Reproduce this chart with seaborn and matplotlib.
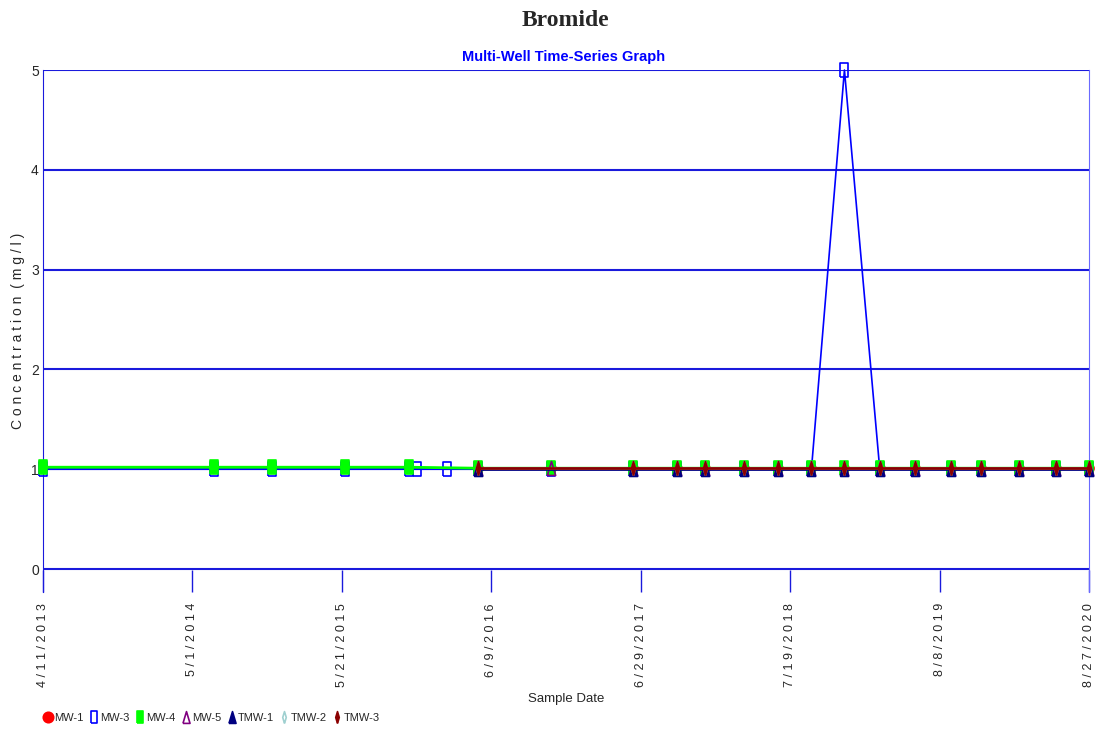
import pandas as pd
import seaborn as sns
import matplotlib.pyplot as plt
from matplotlib.lines import Line2D

# sample dates
early_dates = ['2013-04-11', '2014-06-25', '2014-11-21', '2015-05-28', '2015-11-09']
mw3_extra_dates = ['2015-12-02', '2016-02-17']
mid_dates = ['2016-05-05', '2016-11-09']
late_dates = ['2017-06-08', '2017-09-30', '2017-12-11', '2018-03-21', '2018-06-19',
              '2018-09-12', '2018-12-06', '2019-03-07', '2019-06-05', '2019-09-06',
              '2019-11-22', '2020-02-28', '2020-06-03', '2020-08-27']

mw1_dates = mid_dates + late_dates
mw1_values = [1.01, 1.01, 1.01, 1.01, 1.01, 1.01, 1.01, 1.01, 1.01, 1.01, 1.01, 1.01, 1.01, 1.01, 1.01, 1.01]

mw3_dates = early_dates + mw3_extra_dates + mid_dates + late_dates
mw3_values = [1.0, 1.0, 1.0, 1.0, 1.0, 1.0, 1.0, 1.0, 1.0,
              1.0, 1.0, 1.0, 1.0, 1.0, 1.0, 5.0, 1.0, 1.0, 1.0, 1.0, 1.0, 1.0, 1.0]

mw4_dates = early_dates + mid_dates + late_dates
mw4_values = [1.02, 1.02, 1.02, 1.02, 1.02, 1.01, 1.01,
              1.01, 1.01, 1.01, 1.01, 1.01, 1.01, 1.01, 1.01, 1.01, 1.01, 1.01, 1.01, 1.01, 1.01]

mw5_dates = mid_dates + late_dates
mw5_values = [1.01, 1.01, 1.01, 1.01, 1.01, 1.01, 1.01, 1.01, 1.01, 1.01, 1.01, 1.01, 1.01, 1.01, 1.01, 1.01]

tmw_dates = ['2016-05-05'] + late_dates
tmw1_values = [1.0, 1.0, 1.0, 1.0, 1.0, 1.0, 1.0, 1.0, 1.0, 1.0, 1.0, 1.0, 1.0, 1.0, 1.0]
tmw2_values = [1.01, 1.01, 1.01, 1.01, 1.01, 1.01, 1.01, 1.01, 1.01, 1.01, 1.01, 1.01, 1.01, 1.01, 1.01]
tmw3_values = [1.01, 1.01, 1.01, 1.01, 1.01, 1.01, 1.01, 1.01, 1.01, 1.01, 1.01, 1.01, 1.01, 1.01, 1.01]

narrow = ['Liberation Sans Narrow', 'Liberation Sans', 'DejaVu Sans']

sns.set_style('white')
plt.rcParams['font.family'] = narrow

rect = [(-0.55, -1), (0.55, -1), (0.55, 1), (-0.55, 1), (-0.55, -1)]
tri = [(-0.6, -1), (0.6, -1), (0, 1), (-0.6, -1)]
thin = [(0, -1), (0.3, 0), (0, 1), (-0.3, 0), (0, -1)]

series = [
    ('MW-1', mw1_dates, mw1_values, 'red', 'o', 'red', 6.5),
    ('MW-3', mw3_dates, mw3_values, '#0000ff', rect, 'none', 10),
    ('MW-4', mw4_dates, mw4_values, '#00ff00', rect, '#00ff00', 10),
    ('MW-5', mw5_dates, mw5_values, '#800080', tri, 'none', 10),
    ('TMW-1', tmw_dates, tmw1_values, '#000080', tri, '#000080', 10),
    ('TMW-2', tmw_dates, tmw2_values, '#9fd0d0', thin, 'none', 10),
    ('TMW-3', tmw_dates, tmw3_values, '#8b0000', thin, '#8b0000', 10),
]

fig = plt.figure(figsize=(11.07, 7.34), dpi=100)
ax = fig.add_axes([0.0388, 0.1935, 0.9449, 0.7111])

for y in range(0, 6):
    ax.axhline(y, color='#1a1adc', lw=1.5, zorder=1)

handles = []
for name, d, v, col, mk, fc, ms in series:
    df = pd.DataFrame({'date': pd.to_datetime(d), 'value': v})
    lw = 1.2 if name == 'MW-3' else 2
    sns.lineplot(data=df, x='date', y='value', ax=ax, color=col, lw=lw,
                 marker=mk, markersize=ms, markerfacecolor=fc,
                 markeredgecolor=col, markeredgewidth=1.2, zorder=3, clip_on=False)
    hs = 7.5 if name == 'MW-1' else 8.5
    handles.append(Line2D([], [], linestyle='none', marker=mk, markersize=hs,
                          markerfacecolor=fc, markeredgecolor=col, markeredgewidth=1.2,
                          label=name))

start = pd.Timestamp('2013-04-11')
ticks = pd.date_range(start, periods=8, freq='385D')
ax.set_xlim(ticks[0], ticks[-1])
ax.set_ylim(-0.23, 5)
ax.set_xticks(ticks)
ax.set_xticklabels([' '.join(f'{t.month}/{t.day}/{t.year}') for t in ticks],
                   rotation=90, fontsize=9, va='top')
ax.tick_params(axis='x', bottom=True, direction='in', length=16, color='#1a1adc',
               width=1, pad=8)
ax.set_yticks([0, 1, 2, 3, 4, 5])
ax.set_yticklabels(['0', '1', '2', '3', '4', '5'], fontsize=10)
ax.tick_params(axis='y', length=0, pad=3)

for s in ['top', 'bottom']:
    ax.spines[s].set_visible(False)
ax.spines['left'].set_color('#1a1adc')
ax.spines['right'].set_color('#6a6aff')

ax.set_xlabel('Sample Date', fontsize=9.5, labelpad=4)
ax.set_ylabel(' '.join('Concentration') + '  ( m g / l )', fontsize=10, labelpad=4)

fig.text(0.511, 0.972, 'Bromide', ha='center', va='center', fontsize=17,
         fontweight='bold', family=['Liberation Serif', 'DejaVu Serif'])
fig.text(0.509, 0.922, 'Multi-Well Time-Series Graph', ha='center', va='center',
         fontsize=10.5, fontweight='bold', color='#0000ff')

fig.legend(handles=handles, loc='center left', bbox_to_anchor=(0.03, 0.022),
           ncol=7, frameon=False, fontsize=8, handletextpad=0.2,
           columnspacing=0.5, handlelength=0.8)

fig.savefig('out.png', dpi=100)
